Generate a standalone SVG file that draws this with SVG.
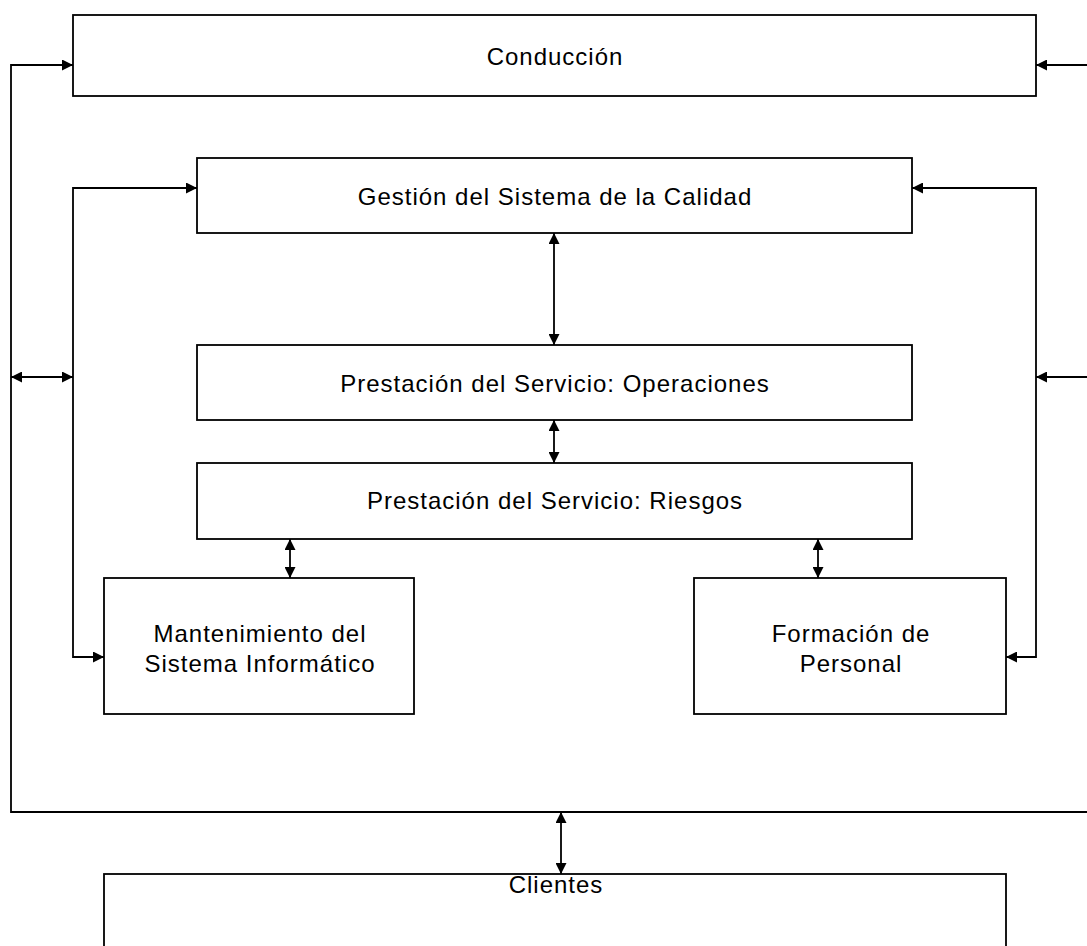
<svg xmlns="http://www.w3.org/2000/svg" width="1087" height="946" viewBox="0 0 1087 946">
<style>
.box{fill:#fff;stroke:#000;stroke-width:1.8}
.lbl{font-family:"Liberation Sans",Arial,sans-serif;font-size:24px;letter-spacing:1px;fill:#000;text-anchor:middle}
.c{fill:none;stroke:#000;stroke-width:1.8}
</style>
<defs>
<marker id="ah" viewBox="0 0 10 10" refX="10" refY="5" markerWidth="11" markerHeight="11" markerUnits="userSpaceOnUse" orient="auto-start-reverse">
<path d="M0,0 L10,5 L0,10 z" fill="#000"/>
</marker>
</defs>
<rect width="1087" height="946" fill="#fff"/>
<g id="connectors">
<path class="c" d="M1087,812 H11 V65 H73" marker-end="url(#ah)"/>
<path class="c" d="M1087,65 H1036" marker-end="url(#ah)"/>
<path class="c" d="M11,377 H73" marker-start="url(#ah)" marker-end="url(#ah)"/>
<path class="c" d="M197,188 H73 V657 H104" marker-start="url(#ah)" marker-end="url(#ah)"/>
<path class="c" d="M912,188 H1036 V657 H1006" marker-start="url(#ah)" marker-end="url(#ah)"/>
<path class="c" d="M1087,377 H1036" marker-end="url(#ah)"/>
<path class="c" d="M554,233 V345" marker-start="url(#ah)" marker-end="url(#ah)"/>
<path class="c" d="M554,420 V463" marker-start="url(#ah)" marker-end="url(#ah)"/>
<path class="c" d="M290,539 V578" marker-start="url(#ah)" marker-end="url(#ah)"/>
<path class="c" d="M818,539 V578" marker-start="url(#ah)" marker-end="url(#ah)"/>
<path class="c" d="M561,812 V874" marker-start="url(#ah)" marker-end="url(#ah)"/>
</g>
<g id="conduccion"><rect class="box" x="73" y="15" width="963" height="81"/><text class="lbl" x="555" y="65">Conducción</text></g>
<g id="gestion"><rect class="box" x="197" y="158" width="715" height="75"/><text class="lbl" x="555" y="205">Gestión del Sistema de la Calidad</text></g>
<g id="operaciones"><rect class="box" x="197" y="345" width="715" height="75"/><text class="lbl" x="555" y="392">Prestación del Servicio: Operaciones</text></g>
<g id="riesgos"><rect class="box" x="197" y="463" width="715" height="76"/><text class="lbl" x="555" y="509">Prestación del Servicio: Riesgos</text></g>
<g id="mantenimiento"><rect class="box" x="104" y="578" width="310" height="136"/><text class="lbl" x="260" y="642">Mantenimiento del</text><text class="lbl" x="260" y="672">Sistema Informático</text></g>
<g id="formacion"><rect class="box" x="694" y="578" width="312" height="136"/><text class="lbl" x="851" y="642">Formación de</text><text class="lbl" x="851" y="672">Personal</text></g>
<g id="clientes"><rect class="box" x="104" y="874" width="902" height="90"/><text class="lbl" x="556" y="893">Clientes</text></g>
</svg>
